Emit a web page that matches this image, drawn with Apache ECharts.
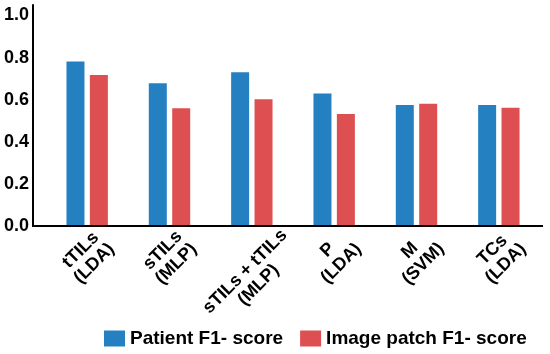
<!DOCTYPE html>
<html>
<head>
<meta charset="utf-8">
<script src="https://cdn.jsdelivr.net/npm/echarts@6/dist/echarts.min.js"></script>
<style>html,body{margin:0;padding:0;background:#fff}#c{width:550px;height:354px}</style>
</head>
<body>
<div id="c"></div>
<script>
const categories = ['tTILs\n(LDA)', 'sTILs\n(MLP)', 'sTILs + tTILs\n(MLP)', 'P\n(LDA)', 'M\n(SVM)', 'TCs\n(LDA)'];
const patientF1 = [0.782, 0.678, 0.730, 0.630, 0.575, 0.575];
const patchF1 = [0.717, 0.559, 0.602, 0.532, 0.581, 0.562];
const yTicks = [0, 0.2, 0.4, 0.6, 0.8, 1.0];
const seriesNames = ['Patient F1- score', 'Image patch F1- score'];

const FONT = "'Liberation Sans', Arial, Helvetica, sans-serif";
const LBL_SIZE = 18, LBL_LH = 19;
const ctx = document.createElement('canvas').getContext('2d');
ctx.font = 'bold ' + LBL_SIZE + 'px ' + FONT;
// Rotated (45deg) two-line labels, centred on their tick and hanging just below the axis:
// shift each label block straight down via top/right padding.
function labelItem(txt) {
  const lines = txt.split('\n');
  const w = Math.max.apply(null, lines.map(l => ctx.measureText(l).width));
  const h = lines.length * LBL_LH;
  const pr = Math.round((w + h) / 2);
  const pt = Math.round((w - h) / 4);
  return { value: txt, textStyle: { align: 'center', verticalAlign: 'top', padding: [pt, pr, 0, 0] } };
}

const chart = echarts.init(document.getElementById('c'), null, { renderer: 'canvas' });
chart.setOption({
  animation: false,
  backgroundColor: '#ffffff',
  textStyle: { fontFamily: FONT },
  grid: { left: 46, right: 10, top: 5, bottom: 128, containLabel: false, outerBoundsMode: 'none' },
  legend: {
    left: 104, top: 329, padding: 0,
    itemWidth: 21, itemHeight: 16, itemGap: 17,
    icon: 'rect',
    textStyle: { fontSize: 19, fontWeight: 'bold', color: '#000', fontFamily: FONT },
    data: seriesNames
  },
  xAxis: {
    type: 'category',
    data: categories.map(labelItem),
    axisLine: { show: false },
    axisTick: { show: false },
    axisLabel: {
      interval: 0, rotate: 45, margin: 0,
      align: 'center', verticalAlign: 'top',
      fontSize: LBL_SIZE, lineHeight: LBL_LH, fontWeight: 'bold', color: '#000', fontFamily: FONT
    }
  },
  yAxis: {
    type: 'value', min: 0, max: 1.05, interval: 0.2, offset: 13,
    axisLine: { show: true, lineStyle: { color: '#000', width: 2 } },
    axisTick: { show: false },
    splitLine: { show: false },
    axisLabel: {
      showMaxLabel: false, margin: 4,
      fontSize: 18, fontWeight: 'bold', color: '#000', fontFamily: FONT,
      formatter: v => (yTicks.some(t => Math.abs(t - v) < 1e-6) ? v.toFixed(1) : '')
    }
  },
  graphic: {
    elements: [{
      type: 'rect', z: 100,
      shape: { x: 32, y: 225, width: 511, height: 2 },
      style: { fill: '#000' }
    }]
  },
  series: [
    { name: seriesNames[0], type: 'bar', data: patientF1, barWidth: 18, barGap: '30%',
      itemStyle: { color: '#2580c2' } },
    { name: seriesNames[1], type: 'bar', data: patchF1, barWidth: 18,
      itemStyle: { color: '#dd4f51' } }
  ]
});
</script>
</body>
</html>
